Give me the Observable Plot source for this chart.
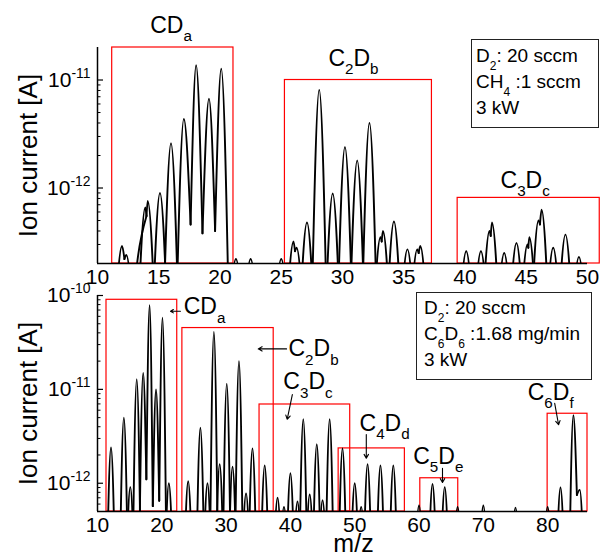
<!DOCTYPE html>
<html>
<head>
<meta charset="utf-8">
<script src="https://cdn.jsdelivr.net/npm/d3@7"></script>
<script src="https://cdn.jsdelivr.net/npm/@observablehq/plot@0.6"></script>
<style>
  body { margin: 0; background: #fff; }
  #chart { position: relative; width: 603px; height: 556px; font-family: "Liberation Sans", Arial, sans-serif; }
  #chart svg { position: absolute; left: 0; }
  .legend { position: absolute; box-sizing: border-box; border: 1px solid #222; font-size: 19px; line-height: 26px; color: #000; white-space: nowrap; }
  .legend .s { font-size: 12px; line-height: 0; vertical-align: -8px; }
</style>
</head>
<body>
<div id="chart"></div>
<script>
// ---------------- Top panel: D2 20 sccm, CH4 1 sccm, 3 kW ----------------
const topMz  = [12.0, 12.35, 13.3, 13.9, 14.1, 15.1, 16.0, 17.05, 18.05, 19.1,
                20.1, 21.3, 22.5, 25.0, 26.0, 26.25, 27.1, 28.1, 29.2, 30.2,
                31.2, 32.2, 33.1, 33.3, 34.2, 35.3, 36.1, 36.35, 40.1, 41.3,
                42.0, 42.2, 43.2, 44.2, 45.1, 45.25, 46.0, 46.25, 47.2, 48.2,
                49.3];
const topIon = [2.9e-13, 2.4e-13, 2.3e-13, 6.6e-13, 7.6e-13, 9.0e-13, 2.6e-12, 4.35e-12, 1.37e-11, 6.7e-12,
                1.27e-11, 2.2e-13, 2.2e-13, 2.2e-13, 3.2e-13, 2.8e-13, 4.8e-13, 8.1e-12, 8.9e-13, 2.4e-12,
                1.8e-12, 4.0e-12, 3.5e-13, 4.0e-13, 4.9e-13, 2.7e-13, 2.7e-13, 2.9e-13, 2.6e-13, 2.6e-13,
                4.0e-13, 4.8e-13, 2.5e-13, 3.1e-13, 3.0e-13, 3.5e-13, 5.0e-13, 6.3e-13, 2.8e-13, 3.7e-13,
                2.3e-13];
const topValleyMz  = [12.2, 14.0, 17.6, 18.57, 19.6, 26.12, 33.2, 36.22, 42.1, 45.17, 46.12];
const topValleyIon = [2.2e-13, 5.5e-13, 4.6e-13, 3.8e-13, 4.0e-13, 2.6e-13, 3.2e-13, 2.5e-13, 3.6e-13, 2.8e-13, 4.6e-13];
const topBoxX1  = [11.2, 25.3, 39.4];
const topBoxX2  = [21.1, 37.3, 51.0];
const topBoxTop = [2.0e-11, 1.0e-11, 8.1e-13];
const topLabels   = ["CD_{a}", "C_{2}D_{b}", "C_{3}D_{c}"];
const topLabelMz  = [14.3, 28.85, 42.9];
const topLabelIon = [2.72e-11, 1.35e-11, 1.0e-12];
const topXTicks = [10, 15, 20, 25, 30, 35, 40, 45, 50];
const topYTicks = [1e-12, 1e-11];

// ---------------- Bottom panel: D2 20 sccm, C6D6 1.68 mg/min, 3 kW ----------------
const botMz  = [12.1, 14.1, 15.1, 16.1, 17.1, 18.1, 19.1, 20.1, 21.1, 24.1,
                26.0, 27.1, 28.1, 29.0, 30.1, 31.0, 32.0, 33.1, 34.1, 36.0,
                38.0, 39.0, 40.0, 41.1, 42.0, 43.0, 44.1, 45.0, 46.1, 48.1,
                50.0, 51.0, 52.0, 54.0, 56.0, 60.0, 62.1, 64.0, 66.0, 70.0,
                75.0, 80.0, 82.0, 84.0, 85.0];
const botIon = [2.4e-12, 5.0e-12, 9.1e-13, 1.28e-11, 1.5e-11, 7.9e-11, 1.0e-11, 5.8e-11, 1.0e-12, 1.05e-12,
                3.9e-12, 1.0e-12, 4.1e-11, 1.6e-12, 1.15e-11, 1.5e-12, 2.0e-11, 7.8e-13, 2.35e-12, 1.55e-12,
                7.0e-13, 5.6e-13, 1.28e-12, 6.4e-13, 4.8e-12, 7.6e-13, 2.6e-12, 6.6e-13, 4.8e-12, 2.35e-12,
                1.0e-12, 5.6e-13, 1.6e-12, 1.55e-12, 1.55e-12, 5.8e-13, 9.8e-13, 9.1e-13, 5.6e-13, 5.8e-13,
                5.5e-13, 5.6e-13, 9.0e-13, 5.3e-12, 8.5e-13];
const botValleyMz  = [17.6, 18.6, 19.6, 84.55];
const botValleyIon = [1.1e-12, 5.7e-13, 6.5e-13, 7.5e-13];
const botBoxX1  = [11.4, 23.2, 35.2, 47.5, 60.2, 80.0];
const botBoxX2  = [22.4, 37.4, 49.3, 57.8, 66.1, 86.2];
const botBoxTop = [9.0e-11, 4.5e-11, 6.9e-12, 2.35e-12, 1.13e-12, 5.5e-12];
const botLabels   = ["CD_{a}", "C_{2}D_{b}", "C_{3}D_{c}", "C_{4}D_{d}", "C_{5}D_{e}", "C_{6}D_{f}"];
const botLabelMz  = [23.4, 39.7, 38.9, 50.75, 59.1, 76.9];
const botLabelIon = [6.3e-11, 2.24e-11, 1.0e-11, 3.6e-12, 1.6e-12, 7.8e-12];
const arrowFromMz  = [22.9, 39.4, 40.3, 51.8, 63.65, 81.1];
const arrowFromIon = [6.8e-11, 2.7e-11, 8.8e-12, 3.3e-12, 1.44e-12, 7.1e-12];
const arrowToMz    = [21.35, 35.0, 39.5, 51.8, 63.65, 81.7];
const arrowToIon   = [6.8e-11, 2.7e-11, 4.8e-12, 1.85e-12, 1.02e-12, 4.2e-12];
const botXTicks = [10, 20, 30, 40, 50, 60, 70, 80];
const botYTicks = [1e-12, 1e-11, 1e-10];

// ---------------- helpers ----------------
const FONT = "'Liberation Sans', Arial, Helvetica, sans-serif";

// Each peak is a short series: base (or shared valley) -> apex -> base (or shared valley)
function peakRows(mz, ion, vMz, vIon, floor, w) {
  const rows = [];
  mz.forEach((m, i) => {
    let li = -1, ri = -1;
    vMz.forEach((v, j) => {
      if (v < m && m - v < 0.75 && (li < 0 || v > vMz[li])) li = j;
      if (v > m && v - m < 0.75 && (ri < 0 || v < vMz[ri])) ri = j;
    });
    rows.push({id: i, mz: li >= 0 ? vMz[li] : m - w, ion: li >= 0 ? vIon[li] : floor});
    rows.push({id: i, mz: m, ion: ion[i]});
    rows.push({id: i, mz: ri >= 0 ? vMz[ri] : m + w, ion: ri >= 0 ? vIon[ri] : floor});
  });
  return rows;
}

function minorTicks(lo, hi) {
  const out = [];
  for (let k = Math.floor(Math.log10(lo)); k <= Math.ceil(Math.log10(hi)); k++) {
    for (let j = 2; j <= 9; j++) {
      const v = j * Math.pow(10, k);
      if (v > lo * 1.0001 && v < hi * 0.9999) out.push(v);
    }
  }
  return out;
}

const supFormat = d => `10^{${Math.round(Math.log10(d))}}`;

function richText(svg) {
  svg.querySelectorAll("text").forEach(el => {
    const s = el.textContent;
    if (!/[_^]\{/.test(s)) return;
    const host = el.closest("[font-size]");
    const F = host ? parseFloat(host.getAttribute("font-size")) : 21;
    const parts = s.match(/[_^]\{[^}]*\}|[^_^]+/g);
    el.textContent = "";
    let cur = 0;
    for (const p of parts) {
      const ts = document.createElementNS("http://www.w3.org/2000/svg", "tspan");
      let off = 0;
      if (p[0] === "_") { off = 0.36 * F; ts.setAttribute("font-size", (0.66 * F).toFixed(1)); ts.textContent = p.slice(2, -1); }
      else if (p[0] === "^") { off = -0.42 * F; ts.setAttribute("font-size", (0.66 * F).toFixed(1)); ts.textContent = p.slice(2, -1); }
      else ts.textContent = p;
      if (off - cur !== 0) ts.setAttribute("dy", (off - cur).toFixed(1));
      cur = off;
      el.appendChild(ts);
    }
  });
}

const W = 603, ML = 97, MR = 16;
const innerW = W - ML - MR;
const plotStyle = {background: "transparent", overflow: "visible", fontFamily: FONT, color: "black"};

function panel({height, marginTop, marginBottom, xDomain, yDomain, rows, boxX1, boxX2, boxTop, xTicks, yTicks, extra}) {
  const idx = d3.range(boxX1.length);
  return Plot.plot({
    width: W, height, marginLeft: ML, marginRight: MR, marginTop, marginBottom,
    x: {domain: xDomain},
    y: {type: "log", domain: yDomain},
    style: plotStyle,
    marks: [
      Plot.rect(idx, {x1: i => boxX1[i], x2: i => boxX2[i], y1: () => yDomain[0], y2: i => boxTop[i],
        fill: "none", stroke: "#ff0000", strokeWidth: 1.2}),
      Plot.line(rows, {x: "mz", y: "ion", z: "id", curve: "monotone-x", stroke: "black", strokeWidth: 1.9, clip: true}),
      Plot.ruleX([xDomain[0]], {stroke: "black", strokeWidth: 1.5}),
      Plot.ruleY([yDomain[0]], {stroke: "black", strokeWidth: 1.5}),
      Plot.tickY(minorTicks(yDomain[0], yDomain[1]), {y: d => d, insetRight: innerW - 3.5, stroke: "black", strokeWidth: 1}),
      Plot.tickY(yTicks, {y: d => d, insetRight: innerW - 6, stroke: "black", strokeWidth: 1.2}),
      Plot.axisX({ticks: xTicks, tickSize: 0, tickPadding: 6, fontSize: 21, label: null, tickFormat: d => String(d)}),
      Plot.axisY({ticks: yTicks, tickSize: 0, tickPadding: 7, fontSize: 21, label: null, tickFormat: supFormat}),
      Plot.text(["Ion current [A]"], {text: d => d, frameAnchor: "left", textAnchor: "middle", lineAnchor: "middle",
        rotate: -90, dx: -69, fontSize: 26}),
      ...extra
    ]
  });
}

const topPlot = panel({
  height: 290, marginTop: 47, marginBottom: 27,
  xDomain: [10, 50], yDomain: [2e-13, 2e-11],
  rows: peakRows(topMz, topIon, topValleyMz, topValleyIon, 4e-14, 0.66),
  boxX1: topBoxX1, boxX2: topBoxX2, boxTop: topBoxTop,
  xTicks: topXTicks, yTicks: topYTicks,
  extra: [
    Plot.text(topLabels, {text: d => d, x: (d, i) => topLabelMz[i], y: (d, i) => topLabelIon[i],
      textAnchor: "start", lineAnchor: "bottom", fontSize: 23})
  ]
});

const bottomPlot = panel({
  height: 276, marginTop: 15, marginBottom: 45,
  xDomain: [10, 86.2], yDomain: [5e-13, 1e-10],
  rows: peakRows(botMz, botIon, botValleyMz, botValleyIon, 1.2e-13, 0.64),
  boxX1: botBoxX1, boxX2: botBoxX2, boxTop: botBoxTop,
  xTicks: botXTicks, yTicks: botYTicks,
  extra: [
    Plot.arrow(d3.range(arrowFromMz.length), {x1: i => arrowFromMz[i], y1: i => arrowFromIon[i],
      x2: i => arrowToMz[i], y2: i => arrowToIon[i], stroke: "black", strokeWidth: 1.1, headLength: 6}),
    Plot.text(botLabels, {text: d => d, x: (d, i) => botLabelMz[i], y: (d, i) => botLabelIon[i],
      textAnchor: "start", lineAnchor: "bottom", fontSize: 23}),
    Plot.text(["m/z"], {text: d => d, frameAnchor: "bottom", textAnchor: "middle", dx: 11, dy: 40,
      lineAnchor: "bottom", fontSize: 25})
  ]
});

richText(topPlot);
richText(bottomPlot);

const chart = document.getElementById("chart");
topPlot.style.top = "0px";
bottomPlot.style.top = "280px";
chart.appendChild(topPlot);
chart.appendChild(bottomPlot);

// legends (text boxes)
function legend(lines, left, topPx, width, height, padTop, padLeft) {
  const div = document.createElement("div");
  div.className = "legend";
  Object.assign(div.style, {left: left + "px", top: topPx + "px", width: width + "px", height: height + "px",
    padding: `${padTop}px 0 0 ${padLeft}px`});
  lines.forEach(l => {
    const line = document.createElement("div");
    l.split(/(_\{[^}]*\})/).forEach(part => {
      if (part.startsWith("_{")) {
        const s = document.createElement("span");
        s.className = "s";
        s.textContent = part.slice(2, -1);
        line.appendChild(s);
      } else if (part) line.appendChild(document.createTextNode(part));
    });
    div.appendChild(line);
  });
  chart.appendChild(div);
}
const topLegend = ["D_{2}: 20 sccm", "CH_{4} :1 sccm", "3 kW"];
const botLegend = ["D_{2}: 20 sccm", "C_{6}D_{6} :1.68 mg/min", "3 kW"];
legend(topLegend, 471, 39, 128, 89, 3, 4);
legend(botLegend, 416, 292, 176, 88, 2, 7);
</script>
</body>
</html>
